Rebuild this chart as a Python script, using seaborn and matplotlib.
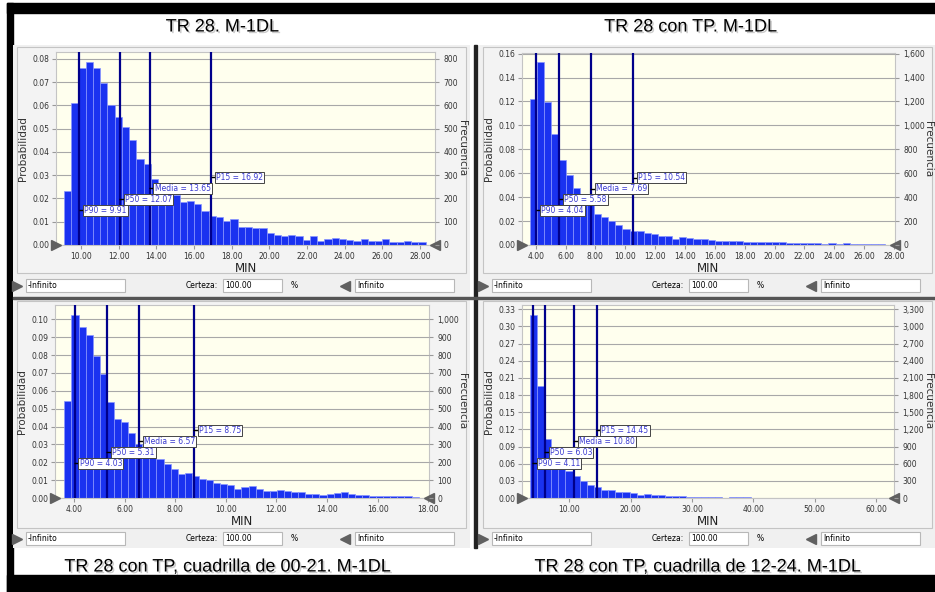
import numpy as np
import matplotlib
matplotlib.use("Agg")
import matplotlib.pyplot as plt
import matplotlib.patheffects as pe
from matplotlib.patches import Rectangle
from matplotlib.lines import Line2D
from matplotlib.ticker import FuncFormatter
import seaborn as sns

# ---- data (50 bins each) ----
titles = ["TR 28. M-1DL", "TR 28 con TP. M-1DL",
          "TR 28 con TP, cuadrilla de 00-21. M-1DL", "TR 28 con TP, cuadrilla de 12-24. M-1DL"]

prob_tr28 = [0.0232, 0.0612, 0.0760, 0.0787, 0.0760, 0.0698, 0.0602, 0.0552, 0.0509, 0.0452,
             0.0370, 0.0347, 0.0283, 0.0250, 0.0227, 0.0214, 0.0184, 0.0188, 0.0178, 0.0146,
             0.0126, 0.0119, 0.0105, 0.0110, 0.0076, 0.0076, 0.0072, 0.0072, 0.0050, 0.0044,
             0.0037, 0.0042, 0.0039, 0.0020, 0.0037, 0.0019, 0.0026, 0.0030, 0.0027, 0.0022,
             0.0017, 0.0027, 0.0016, 0.0016, 0.0024, 0.0014, 0.0014, 0.0019, 0.0014, 0.0011]
prob_tp = [0.1223, 0.1533, 0.1198, 0.0924, 0.0712, 0.0586, 0.0475, 0.0410, 0.0350, 0.0257,
           0.0237, 0.0204, 0.0168, 0.0137, 0.0117, 0.0114, 0.0098, 0.0092, 0.0073, 0.0073,
           0.0047, 0.0064, 0.0056, 0.0047, 0.0047, 0.0042, 0.0031, 0.0036, 0.0036, 0.0031,
           0.0022, 0.0028, 0.0025, 0.0028, 0.0022, 0.0025, 0.0020, 0.0017, 0.0020, 0.0014,
           0.0017, 0.0008, 0.0020, 0.0008, 0.0014, 0.0011, 0.0011, 0.0011, 0.0006, 0.0006]
prob_00_21 = [0.0541, 0.1026, 0.0957, 0.0914, 0.0797, 0.0696, 0.0535, 0.0444, 0.0425, 0.0366,
              0.0304, 0.0276, 0.0235, 0.0218, 0.0192, 0.0162, 0.0136, 0.0142, 0.0121, 0.0106,
              0.0099, 0.0082, 0.0078, 0.0075, 0.0050, 0.0060, 0.0067, 0.0049, 0.0037, 0.0039,
              0.0045, 0.0041, 0.0032, 0.0032, 0.0024, 0.0024, 0.0019, 0.0022, 0.0028, 0.0032,
              0.0022, 0.0017, 0.0015, 0.0011, 0.0013, 0.0013, 0.0013, 0.0009, 0.0011, 0.0007]
prob_12_24 = [0.3207, 0.1953, 0.1038, 0.0775, 0.0600, 0.0472, 0.0379, 0.0292, 0.0222, 0.0192,
              0.0146, 0.0134, 0.0099, 0.0099, 0.0087, 0.0058, 0.0064, 0.0047, 0.0047, 0.0035,
              0.0029, 0.0035, 0.0017, 0.0017, 0.0023, 0.0012, 0.0017, 0.0006, 0.0012, 0.0012,
              0.0012, 0.0006, 0.0004, 0.0004, 0.0004, 0.0004, 0.0004, 0.0004, 0.0004, 0.0004,
              0.0004, 0.0004, 0.0004, 0.0004, 0.0000, 0.0004, 0.0004, 0.0004, 0.0004, 0.0004]

bin_start = [9.10, 3.62, 3.62, 3.58]
bin_width = [0.384, 0.476, 0.280, 1.160]

marker_names = ["P90", "P50", "Media", "P15"]
markers_tr28 = [9.91, 12.07, 13.65, 16.92]
markers_tp = [4.04, 5.58, 7.69, 10.54]
markers_00_21 = [4.03, 5.31, 6.57, 8.75]
markers_12_24 = [4.11, 6.03, 10.80, 14.45]

xticks_tr28 = [10, 12, 14, 16, 18, 20, 22, 24, 26, 28]
xticks_tp = [4, 6, 8, 10, 12, 14, 16, 18, 20, 22, 24, 26, 28]
xticks_00_21 = [4, 6, 8, 10, 12, 14, 16, 18]
xticks_12_24 = [10, 20, 30, 40, 50, 60]

yticks_tr28 = [0.00, 0.01, 0.02, 0.03, 0.04, 0.05, 0.06, 0.07, 0.08]
yticks_tp = [0.00, 0.02, 0.04, 0.06, 0.08, 0.10, 0.12, 0.14, 0.16]
yticks_00_21 = [0.00, 0.01, 0.02, 0.03, 0.04, 0.05, 0.06, 0.07, 0.08, 0.09, 0.10]
yticks_12_24 = [0.00, 0.03, 0.06, 0.09, 0.12, 0.15, 0.18, 0.21, 0.24, 0.27, 0.30, 0.33]

trials = 10000

W, H = 935, 592
fig = plt.figure(figsize=(W / 100, H / 100), dpi=100)
fig.patch.set_facecolor("white")


def frac(l, t, r, b):
    return [l / W, 1 - b / H, (r - l) / W, (b - t) / H]


def box(l, t, r, b, zorder=-10, **kw):
    fig.add_artist(Rectangle((l / W, 1 - b / H), (r - l) / W, (b - t) / H,
                             transform=fig.transFigure, zorder=zorder, **kw))


def tri(x, y, m, size=7, color="#606060"):
    fig.add_artist(Line2D([x / W], [1 - y / H], marker=m, markersize=size, color=color,
                          transform=fig.transFigure))


def ftext(x, y, s, **kw):
    fig.text(x / W, 1 - y / H, s, **kw)


# frame and panel backgrounds
box(7, 3, 935, 13, color="black")
box(7, 3, 13, 592, color="black")
box(7, 575, 935, 592, color="black")
for (l, t, r, b) in [(13, 45, 470, 297), (479, 45, 935, 297), (13, 300, 470, 548), (479, 300, 935, 548)]:
    box(l, t, r, b, facecolor="#f0f0f0", edgecolor="none")
box(474, 45, 477, 548, color="#222222")
box(13, 297, 935, 299, color="#555555")
for (l, t, r, b) in [(17, 47, 466, 273), (483, 47, 932, 273), (17, 301, 466, 528), (483, 301, 932, 528)]:
    box(l, t, r, b, zorder=-9, facecolor="#f3f3f3", edgecolor="#c4c4c4", lw=0.8)

# titles
shadow = [pe.SimplePatchShadow(offset=(1.2, -1.2), alpha=0.2), pe.Normal()]
for (x, y), t in zip([(222, 27), (690, 27), (227, 567), (697, 567)], titles):
    ftext(x, y, t, ha="center", va="center", fontsize=13, family="Liberation Sans",
          path_effects=shadow)


# control row under each chart
def controls(x0, y0):
    tri(x0 + 17, y0 + 6.5, ">")
    box(x0 + 26, y0, x0 + 125, y0 + 13, zorder=-8, facecolor="white", edgecolor="#b8b8b8", lw=0.8)
    ftext(x0 + 28, y0 + 6.5, "-Infinito", fontsize=5.5, va="center", ha="left")
    ftext(x0 + 218, y0 + 6.5, "Certeza:", fontsize=5.5, va="center", ha="right")
    box(x0 + 223, y0, x0 + 282, y0 + 13, zorder=-8, facecolor="white", edgecolor="#b8b8b8", lw=0.8)
    ftext(x0 + 225, y0 + 6.5, "100.00", fontsize=5.5, va="center", ha="left")
    ftext(x0 + 291, y0 + 6.5, "%", fontsize=5.5, va="center", ha="left")
    tri(x0 + 345, y0 + 6.5, "<")
    box(x0 + 355, y0, x0 + 454, y0 + 13, zorder=-8, facecolor="white", edgecolor="#b8b8b8", lw=0.8)
    ftext(x0 + 357, y0 + 6.5, "Infinito", fontsize=5.5, va="center", ha="left")


controls(0, 279)
controls(466, 279)
controls(0, 532)
controls(466, 532)

BAR = "#1a32f0"
EDGE = "#8a96ff"
LINE = "#00008b"
label_y = [0.18, 0.237, 0.294, 0.35]


def draw_panel(rect, probs, start, width, xlim, xticks, ylim, yticks, marks, freq_x):
    ax = fig.add_axes(frac(*rect))
    n = len(probs)
    centers = start + width * (np.arange(n) + 0.5)
    sns.histplot(x=centers, weights=probs, bins=n, binrange=(start, start + width * n),
                 color=BAR, edgecolor=EDGE, linewidth=0.5, alpha=1, ax=ax)
    ax.set_facecolor("#ffffee")
    ax.set_xlim(*xlim)
    ax.set_ylim(*ylim)
    ax.set_xticks(xticks)
    ax.set_yticks(yticks)
    ax.xaxis.set_major_formatter(FuncFormatter(lambda v, p: f"{v:.2f}"))
    ax.yaxis.set_major_formatter(FuncFormatter(lambda v, p: f"{v:.2f}"))
    ax.grid(axis="y", color="#a8a8a8", lw=0.8)
    ax.set_axisbelow(True)
    for s in ax.spines.values():
        s.set_color("#c4c4c4")
    ax.tick_params(labelsize=5.5, labelcolor="#333333", color="#999999", length=3, pad=2)
    ax.set_xlabel("MIN", fontsize=8.5, labelpad=1, color="#222222")
    ax.set_ylabel("Probabilidad", fontsize=7.5, labelpad=3, color="#333333")

    tw = ax.twinx()
    tw.set_ylim(ylim[0] * trials, ylim[1] * trials)
    tw.set_yticks([v * trials for v in yticks])
    tw.yaxis.set_major_formatter(FuncFormatter(lambda v, p: f"{v:,.0f}"))
    tw.tick_params(labelsize=5.5, labelcolor="#333333", color="#999999", length=3, pad=3)
    for s in tw.spines.values():
        s.set_visible(False)
    fx = (freq_x - rect[0]) / (rect[2] - rect[0])
    ax.text(fx, 0.5, "Frecuencia", transform=ax.transAxes, rotation=270, ha="center",
            va="center", fontsize=7.5, color="#333333")

    tr = ax.get_xaxis_transform()
    for name, val, fy in zip(marker_names, marks, label_y):
        ax.axvline(val, color=LINE, lw=1.6, zorder=3)
        ax.plot([val + (xlim[1] - xlim[0]) * 0.006], [fy], transform=tr, marker="_",
                ms=4, mew=1, color="black", zorder=4)
        ax.annotate(f"{name} = {val:.2f}", xy=(val, fy), xycoords=tr, xytext=(3.5, 0),
                    textcoords="offset points", ha="left", va="center", fontsize=5.5,
                    color="#3a3ad0", zorder=5,
                    bbox=dict(boxstyle="square,pad=0.15", fc="white", ec="#444444", lw=0.7))
    ax.plot([0.0], [0.0], transform=ax.transAxes, marker=">", ms=7, color="#606060",
            clip_on=False, zorder=6)
    ax.plot([1.0], [0.0], transform=ax.transAxes, marker="<", ms=7, color="#606060",
            clip_on=False, zorder=6)
    return ax


draw_panel((56, 52, 435, 245), prob_tr28, bin_start[0], bin_width[0], (8.67, 28.80),
           xticks_tr28, (0, 0.083), yticks_tr28, markers_tr28, 462)
draw_panel((522, 53, 895, 245), prob_tp, bin_start[1], bin_width[1], (3.08, 28.07),
           xticks_tp, (0, 0.1605), yticks_tp, markers_tp, 928)
draw_panel((55, 305, 429, 498), prob_00_21, bin_start[2], bin_width[2], (3.25, 18.03),
           xticks_00_21, (0, 0.108), yticks_00_21, markers_00_21, 462)
draw_panel((522, 305, 894, 498), prob_12_24, bin_start[3], bin_width[3], (2.29, 62.93),
           xticks_12_24, (0, 0.3375), yticks_12_24, markers_12_24, 928)

fig.savefig("out.png", dpi=100)
